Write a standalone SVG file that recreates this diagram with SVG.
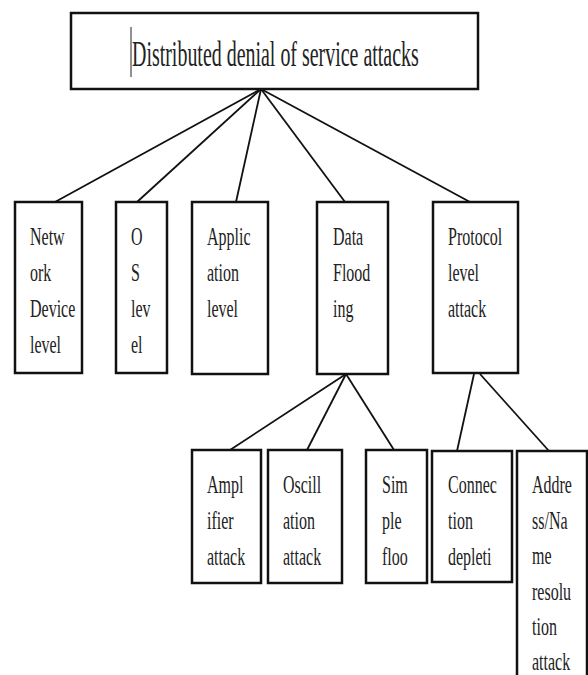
<svg xmlns="http://www.w3.org/2000/svg" width="588" height="675" viewBox="0 0 588 675">
<style>
.box{fill:#fff;stroke:#111;stroke-width:2.5}
.lbl{font-family:'Liberation Serif','DejaVu Serif',serif;font-size:25px;fill:#222}
.con line{stroke:#111;stroke-width:1.8}
</style>
<rect width="588" height="675" fill="#fff"/>
<g class="con">
<line x1="261" y1="89" x2="55" y2="202"/>
<line x1="261" y1="89" x2="137" y2="202"/>
<line x1="261" y1="89" x2="236" y2="202"/>
<line x1="261" y1="89" x2="345" y2="202"/>
<line x1="261" y1="89" x2="470" y2="202"/>
<line x1="346" y1="374" x2="230" y2="450"/>
<line x1="346" y1="374" x2="307" y2="450"/>
<line x1="346" y1="374" x2="394" y2="450"/>
<line x1="474" y1="374" x2="457" y2="451"/>
<line x1="480" y1="374" x2="549" y2="451"/>
</g>
<g id="root">
<rect class="box" x="71" y="13" width="407" height="76"/>
<line x1="131" y1="27" x2="131" y2="77" stroke="#222" stroke-width="1"/>
<text class="lbl" transform="translate(132,66) scale(0.57,1)" style="font-size:35px">Distributed denial of service attacks</text>
</g>
<g id="network">
<rect class="box" x="15" y="202" width="67" height="171"/>
<text class="lbl" transform="translate(30,245) scale(0.64,1)"><tspan x="0">Netw</tspan><tspan x="0" dy="36">ork</tspan><tspan x="0" dy="36">Device</tspan><tspan x="0" dy="36">level</tspan></text>
</g>
<g id="os">
<rect class="box" x="116" y="202" width="51" height="171"/>
<text class="lbl" transform="translate(131,245) scale(0.64,1)"><tspan x="0">O</tspan><tspan x="0" dy="36">S</tspan><tspan x="0" dy="36">lev</tspan><tspan x="0" dy="36">el</tspan></text>
</g>
<g id="application">
<rect class="box" x="192" y="202" width="76" height="172"/>
<text class="lbl" transform="translate(207,245) scale(0.64,1)"><tspan x="0">Applic</tspan><tspan x="0" dy="36">ation</tspan><tspan x="0" dy="36">level</tspan></text>
</g>
<g id="dataflooding">
<rect class="box" x="317" y="202" width="71" height="172"/>
<text class="lbl" transform="translate(333,245) scale(0.64,1)"><tspan x="0">Data</tspan><tspan x="0" dy="36">Flood</tspan><tspan x="0" dy="36">ing</tspan></text>
</g>
<g id="protocol">
<rect class="box" x="433" y="202" width="85" height="171"/>
<text class="lbl" transform="translate(448,245) scale(0.64,1)"><tspan x="0">Protocol</tspan><tspan x="0" dy="36">level</tspan><tspan x="0" dy="36">attack</tspan></text>
</g>
<g id="amplifier">
<rect class="box" x="192" y="450" width="69" height="133"/>
<text class="lbl" transform="translate(207,493) scale(0.64,1)"><tspan x="0">Ampl</tspan><tspan x="0" dy="36">ifier</tspan><tspan x="0" dy="36">attack</tspan></text>
</g>
<g id="oscillation">
<rect class="box" x="268" y="450" width="74" height="133"/>
<text class="lbl" transform="translate(283,493) scale(0.64,1)"><tspan x="0">Oscill</tspan><tspan x="0" dy="36">ation</tspan><tspan x="0" dy="36">attack</tspan></text>
</g>
<g id="simple">
<rect class="box" x="366" y="450" width="61" height="133"/>
<text class="lbl" transform="translate(382,493) scale(0.64,1)"><tspan x="0">Sim</tspan><tspan x="0" dy="36">ple</tspan><tspan x="0" dy="36">floo</tspan></text>
</g>
<g id="connection">
<rect class="box" x="432" y="451" width="80" height="131"/>
<text class="lbl" transform="translate(448,493) scale(0.64,1)"><tspan x="0">Connec</tspan><tspan x="0" dy="36">tion</tspan><tspan x="0" dy="36">depleti</tspan></text>
</g>
<g id="address">
<rect class="box" x="517" y="451" width="70" height="240"/>
<text class="lbl" transform="translate(532,493) scale(0.64,1)"><tspan x="0">Addre</tspan><tspan x="0" dy="36">ss/Na</tspan><tspan x="0" dy="35">me</tspan><tspan x="0" dy="36">resolu</tspan><tspan x="0" dy="35">tion</tspan><tspan x="0" dy="35">attack</tspan></text>
</g>
</svg>
